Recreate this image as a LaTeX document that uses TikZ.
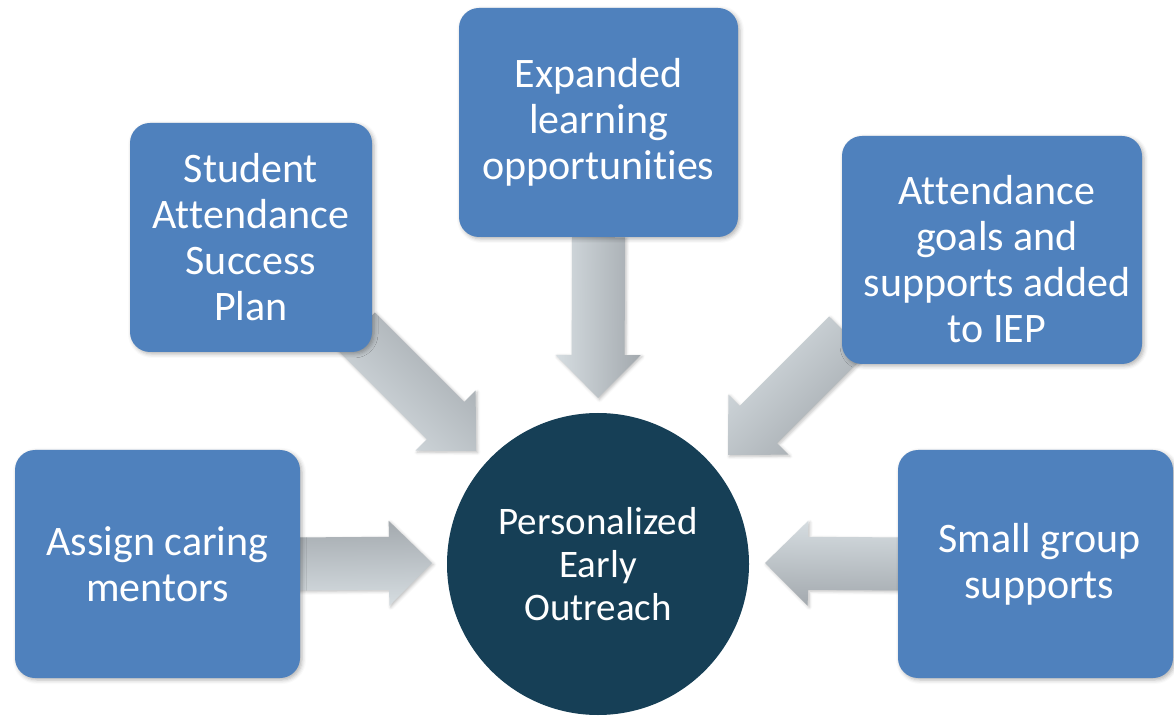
\documentclass[tikz,border=0pt]{standalone}
\usepackage{fontspec}
\setmainfont{Carlito}[Ligatures={NoCommon,NoContextual}]
\usetikzlibrary{calc,shadows.blur}

\definecolor{boxblue}{HTML}{4F81BD}
\definecolor{hubnavy}{HTML}{163F56}
\definecolor{shaftlight}{HTML}{D6DDE1}
\definecolor{shaftdark}{HTML}{A3A9AE}

\pgfdeclarelayer{background}
\pgfsetlayers{background,main}

% keeps "tt" and "ti" as separate letters
\newcommand\sep{\kern0pt}

\tikzset{
  goalbox/.style={rectangle, rounded corners=20pt, fill=boxblue, text=white,
    align=center, inner sep=0pt,
    font=\fontsize{42pt}{46pt}\selectfont,
    blur shadow={shadow xshift=2pt, shadow yshift=-2pt, shadow blur radius=4pt, shadow opacity=30}},
  goaltext/.style={text=white, align=center, inner sep=0pt,
    font=\fontsize{42pt}{46pt}\selectfont},
  hub/.style={circle, fill=hubnavy, text=white, align=center, inner sep=0pt,
    minimum size=302pt, font=\fontsize{39pt}{43pt}\selectfont},
  fatshaft/.style={top color=shaftdark, bottom color=shaftlight,
    blur shadow={shadow xshift=1.5pt, shadow yshift=-1.5pt, shadow blur radius=3pt, shadow opacity=25}}
}

% Block arrow from #1 to its tip #2, shaded across its width
\newcommand\fatarrow[2]{%
  \path let \p1=(#1), \p2=(#2),
    \n1={atan2(\y2-\y1,\x2-\x1)}, \n2={veclen(\x2-\x1,\y2-\y1)} in
    \pgfextra{\xdef\arrang{\n1}\xdef\arrlen{\n2}};
  \begin{scope}[shift={(#2)}, rotate=\arrang]
    \path[fatshaft, shading angle=\arrang]
      (0,0) -- (-43,42.5) -- (-43,26.5) -- (-\arrlen,26.5)
      -- (-\arrlen,-26.5) -- (-43,-26.5) -- (-43,-42.5) -- cycle;
  \end{scope}}

\begin{document}
\begin{tikzpicture}[x=1pt, y=1pt]
  \useasboundingbox (0,0) rectangle (1174,715);

  % surrounding measures
  \node[goalbox, minimum width=242pt, minimum height=229pt] (plan) at (251,477.5)
    {Student\\At\sep tendance\\Success\\Plan};
  \node[goalbox, minimum width=279pt, minimum height=229pt] (expand) at (598.5,592.5)
    {Expanded\\learning\\opportuni\sep t\sep ies};
  \node[goalbox, minimum width=300pt, minimum height=228pt] (iep) at (992,465) {};
  \node[goaltext] (ieptext) at ($(iep.center)+(5,-9)$)
    {At\sep tendance\\goals and\\supports added\\to IEP};
  \node[goalbox, minimum width=285pt, minimum height=228pt] (mentor) at (157.5,151)
    {Assign caring\\mentors};
  \node[goalbox, minimum width=275pt, minimum height=228pt] (group) at (1035.5,151) {};
  \node[goaltext] (grouptext) at ($(group.center)+(4,0)$) {Small group\\supports};

  % central hub
  \node[hub] (hub) at (598,151) {Personalized\\Early\\Outreach};

  % arrow start points (hidden under the boxes) and tips
  \coordinate (planS)   at ($(plan.south east)+(-16,21)$);
  \coordinate (planT)   at (476,264);
  \coordinate (expandS) at (expand.south);
  \coordinate (expandT) at (598,317);
  \coordinate (iepS)    at ($(iep.south west)+(6,29)$);
  \coordinate (iepT)    at (728,260);
  \coordinate (mentorS) at ($(mentor.east)+(-10,0)$);
  \coordinate (mentorT) at (432,152);
  \coordinate (groupS)  at ($(group.west)+(10,0)$);
  \coordinate (groupT)  at (765,152);

  \begin{pgfonlayer}{background}
    \fatarrow{planS}{planT}
    \fatarrow{expandS}{expandT}
    \fatarrow{iepS}{iepT}
    \fatarrow{mentorS}{mentorT}
    \fatarrow{groupS}{groupT}
  \end{pgfonlayer}
\end{tikzpicture}
\end{document}
